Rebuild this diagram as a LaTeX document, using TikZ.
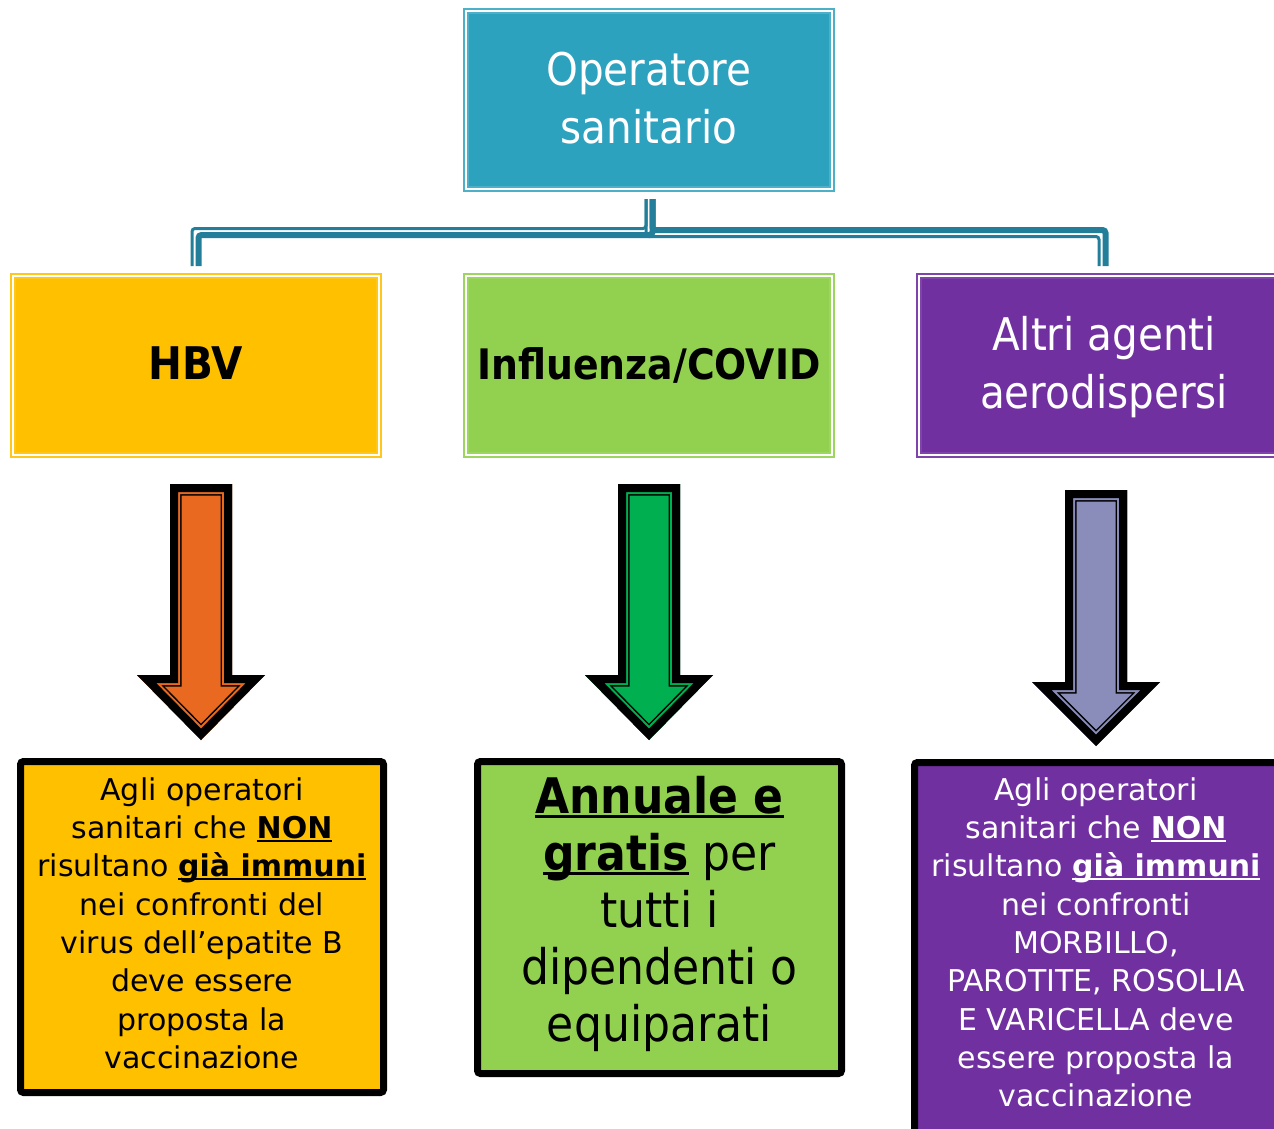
\documentclass[tikz,border=0pt]{standalone}
\usepackage{fontspec}
\setmainfont{DejaVu Sans}
\newfontfamily\hdrfont{DejaVu Sans}[FakeStretch=0.9]
\usetikzlibrary{calc}
\definecolor{topfill}{HTML}{2DA2BF}
\definecolor{topline}{HTML}{4DB0C9}
\definecolor{conn}{HTML}{237F99}
\definecolor{yel}{HTML}{FFC000}
\definecolor{yelline}{HTML}{FFC71A}
\definecolor{lgreen}{HTML}{92D050}
\definecolor{lgreenline}{HTML}{9CD65E}
\definecolor{purp}{HTML}{7030A0}
\definecolor{purpline}{HTML}{7E44AB}
\definecolor{arrorange}{HTML}{E8691F}
\definecolor{arrgreen}{HTML}{00B050}
\definecolor{arrlilac}{HTML}{8A8DB9}
\newcommand\ulx[1]{\setbox0=\hbox{#1}\rlap{\rule[-0.1em]{\wd0}{0.06em}}\box0}
\newcommand\arrpath[4]{(#1-31,#2) -- (#1+31,#2) -- (#1+31,#3) -- (#1+64,#3) -- (#1,#4) -- (#1-64,#3) -- (#1-31,#3) -- cycle}
\newcommand\blockarrow[5]{%
  \begin{scope}
    \clip \arrpath{#1}{#2}{#3}{#4};
    \fill[#5] \arrpath{#1}{#2}{#3}{#4};
    \draw[line width=23pt, black, line join=miter] \arrpath{#1}{#2}{#3}{#4};
    \draw[line width=20pt, #5, line join=miter] \arrpath{#1}{#2}{#3}{#4};
    \draw[line width=16pt, black, line join=miter] \arrpath{#1}{#2}{#3}{#4};
  \end{scope}}
\tikzset{
  tierbox/.style 2 args={draw=#2, fill=#1, double=white, double distance=2pt,
    line width=1.8pt, minimum width=366pt, minimum height=179pt, inner sep=0pt, outer sep=0pt},
  botbox/.style={draw=black, fill=#1, line width=7pt, rounded corners=3pt, inner sep=0pt, outer sep=0pt},
  hdrtxt/.style={inner sep=0pt, align=center, font=\hdrfont\fontsize{45}{58}\selectfont},
  bodytxt/.style={inner sep=0pt, align=center, anchor=north, font=\fontsize{30}{38.3}\selectfont},
  thinln/.style={draw=conn, line width=3pt, rounded corners=3pt},
  thickln/.style={draw=conn, line width=6pt, rounded corners=3pt},
}
\begin{document}
\begin{tikzpicture}[x=1pt,y=-1pt]
\useasboundingbox (0,0) rectangle (1274,1129);
\clip (0,0) rectangle (1274,1129);
\fill[white] (0,0) rectangle (1274,1129);

% tier boxes
\node[tierbox={topfill}{topline}, minimum height=178pt] (op) at (649,100) {};
\node[tierbox={yel}{yelline}] (hbv) at (196,365.5) {};
\node[tierbox={lgreen}{lgreenline}] (flu) at (649,365.5) {};
\node[tierbox={purp}{purpline}] (alt) at (1102,365.5) {};

% connectors
\draw[thinln] ($(op.south)+(-3,10)$) -- ($(op.south)+(-3,39.5)$) -| ($(hbv.north)+(-4,-10)$);
\draw[thickln] ($(op.south)+(3.5,10)$) -- ($(op.south)+(3.5,46)$) -| ($(hbv.north)+(2.5,-10)$);
\draw[thinln] ($(op.south)+(-3,10)$) -- ($(op.south)+(-3,47.5)$) -| ($(alt.north)+(-3,-10)$);
\draw[thickln] ($(op.south)+(3.5,10)$) -- ($(op.south)+(3.5,41)$) -| ($(alt.north)+(3.5,-10)$);

% texts of tier boxes
\node[hdrtxt, anchor=north, text=white] (optxt) at (649,40) {\rule{0pt}{45pt}Operatore\\sanitario};
\node[hdrtxt, anchor=base, font=\hdrfont\bfseries\fontsize{45}{58}\selectfont] (hbvtxt) at (196,379) {HBV};
\node[hdrtxt, anchor=base, font=\hdrfont\bfseries\fontsize{42}{58}\selectfont] (flutxt) at (649,379) {Influenza/COVID};
\node[hdrtxt, anchor=north, text=white] (alttxt) at (1104,305) {\rule{0pt}{45pt}Altri agenti\\aerodispersi};

% block arrows
\blockarrow{201}{484}{675}{740}{arrorange}
\blockarrow{649}{484}{675}{740}{arrgreen}
\blockarrow{1096}{490}{682}{746}{arrlilac}

% bottom boxes
\node[botbox=yel, minimum width=363pt, minimum height=331pt] (hbvbox) at (202,927) {};
\node[botbox=lgreen, minimum width=364pt, minimum height=312pt] (flubox) at (659.5,917.5) {};
\node[botbox=purp, minimum width=363pt, minimum height=374pt] (altbox) at (1096,949.5) {};

\node[bodytxt] (hbvbody) at (202,770) {\rule{0pt}{30pt}Agli operatori\\sanitari che \ulx{\textbf{NON}}\\risultano \ulx{\textbf{già immuni}}\\nei confronti del\\virus dell’epatite B\\deve essere\\proposta la\\vaccinazione};
\node[bodytxt, font=\hdrfont\fontsize{49}{57}\selectfont] (flubody) at (659.5,764) {\rule{0pt}{49pt}\ulx{\textbf{Annuale e}}\\\ulx{\textbf{gratis}}\ per\\tutti i\\dipendenti o\\equiparati};
\node[bodytxt, text=white] (altbody) at (1096,770) {\rule{0pt}{30pt}Agli operatori\\sanitari che \ulx{\textbf{NON}}\\risultano \ulx{\textbf{già immuni}}\\nei confronti\\MORBILLO,\\PAROTITE, ROSOLIA\\E VARICELLA deve\\essere proposta la\\vaccinazione};
\end{tikzpicture}
\end{document}
